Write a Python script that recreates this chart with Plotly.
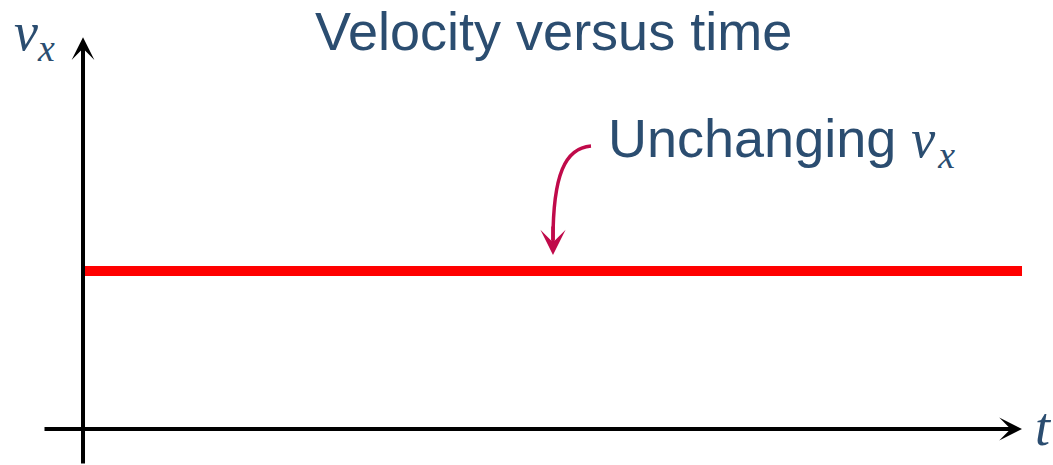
import plotly.graph_objects as go

# ---- data ----
title_text = "Velocity versus time"
callout_text = "Unchanging"
t_values = [0, 10]
vx_values = [4, 4]
t_axis_end = 10
vx_axis_end = 9.92

# ---- layout geometry (pixels -> data mapping) ----
W, H = 1053, 465
x_range = [-0.884, 10.33]
y_range = [-0.911, 10.861]

def px(xp):
    return x_range[0] + xp / W * (x_range[1] - x_range[0])

def py(yp):
    return y_range[1] - yp / H * (y_range[1] - y_range[0])

TXT = "#2b4d70"
CRIMSON = "#c00a4a"

fig = go.Figure()
fig.add_trace(go.Scatter(x=t_values, y=vx_values, mode="lines",
                         line=dict(color="#ff0000", width=10), hoverinfo="skip",
                         showlegend=False))

anns = []
# horizontal axis
anns.append(dict(x=t_axis_end, y=0, ax=px(43), ay=0, xref="x", yref="y", axref="x", ayref="y",
                 text="", showarrow=True, arrowhead=3, arrowsize=0.95, arrowwidth=4,
                 arrowcolor="black", standoff=0))
# vertical axis
anns.append(dict(x=0, y=vx_axis_end, ax=0, ay=y_range[0], xref="x", yref="y", axref="x", ayref="y",
                 text="", showarrow=True, arrowhead=3, arrowsize=0.95, arrowwidth=4,
                 arrowcolor="black", standoff=0))
# curved arrow head
anns.append(dict(x=px(553), y=py(255), ax=px(553), ay=py(225), xref="x", yref="y", axref="x", ayref="y",
                 text="", showarrow=True, arrowhead=3, arrowsize=1.2, arrowwidth=3.5,
                 arrowcolor=CRIMSON, standoff=0))

# texts
anns.append(dict(x=553 / W, y=1 - 31 / H, xref="paper", yref="paper", text=title_text,
                 showarrow=False, xanchor="center", yanchor="middle",
                 font=dict(family="Liberation Sans, Arial", size=54, color=TXT)))
anns.append(dict(x=606 / W, y=1 - 142 / H, xref="paper", yref="paper",
                 text=callout_text + " <span style='font-family:Liberation Serif'><i>v</i><sub><i>&#8202;x</i></sub></span>",
                 showarrow=False, xanchor="left", yanchor="middle",
                 font=dict(family="Liberation Sans, Arial", size=54, color=TXT)))
anns.append(dict(x=12 / W, y=1 - 36 / H, xref="paper", yref="paper",
                 text="<i>v</i><sub><i>x</i></sub>",
                 showarrow=False, xanchor="left", yanchor="middle",
                 font=dict(family="Liberation Serif", size=54, color=TXT)))
anns.append(dict(x=1043 / W, y=1 - 427 / H, xref="paper", yref="paper",
                 text="<i>t</i>",
                 showarrow=False, xanchor="center", yanchor="middle",
                 font=dict(family="Liberation Serif", size=54, color=TXT)))

curve = (f"M {px(591)},{py(146)} C {px(565)},{py(148)} {px(553)},{py(175)} {px(553)},{py(240)}")

fig.update_layout(
    width=W, height=H,
    margin=dict(l=0, r=0, t=0, b=0),
    paper_bgcolor="white", plot_bgcolor="white",
    xaxis=dict(range=x_range, visible=False, fixedrange=True),
    yaxis=dict(range=y_range, visible=False, fixedrange=True),
    annotations=anns,
    shapes=[dict(type="path", path=curve, xref="x", yref="y",
                 line=dict(color=CRIMSON, width=3.5))],
    showlegend=False,
)

fig.write_html("out.html", config={"displayModeBar": False},
               post_script="document.body.style.margin='0';document.body.style.overflow='hidden';")
